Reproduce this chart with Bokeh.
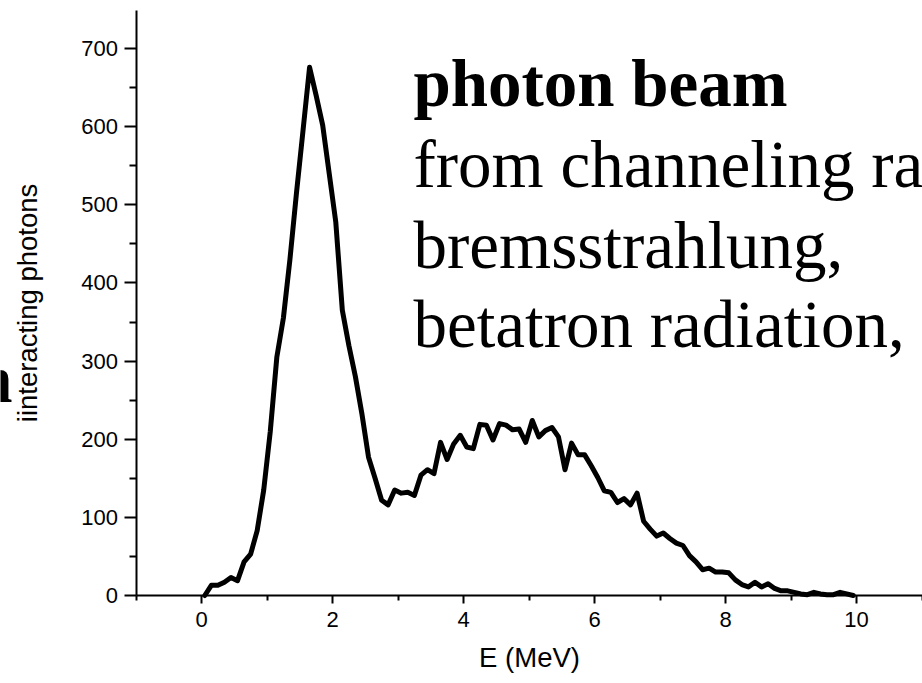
from bokeh.plotting import figure
from bokeh.models import ColumnDataSource, Range1d, FixedTicker, Label
from bokeh.embed import file_html
from bokeh.resources import INLINE

# ---- data ----
energy_mev = [0.05, 0.15, 0.25, 0.35, 0.45, 0.55, 0.65, 0.75, 0.85, 0.95,
              1.05, 1.15, 1.25, 1.35, 1.45, 1.55, 1.65, 1.75, 1.85, 1.95,
              2.05, 2.15, 2.25, 2.35, 2.45, 2.55, 2.65, 2.75, 2.85, 2.95,
              3.05, 3.15, 3.25, 3.35, 3.45, 3.55, 3.65, 3.75, 3.85, 3.95,
              4.05, 4.15, 4.25, 4.35, 4.45, 4.55, 4.65, 4.75, 4.85, 4.95,
              5.05, 5.15, 5.25, 5.35, 5.45, 5.55, 5.65, 5.75, 5.85, 5.95,
              6.05, 6.15, 6.25, 6.35, 6.45, 6.55, 6.65, 6.75, 6.85, 6.95,
              7.05, 7.15, 7.25, 7.35, 7.45, 7.55, 7.65, 7.75, 7.85, 7.95,
              8.05, 8.15, 8.25, 8.35, 8.45, 8.55, 8.65, 8.75, 8.85, 8.95,
              9.05, 9.15, 9.25, 9.35, 9.45, 9.55, 9.65, 9.75, 9.85, 9.95]
photons = [0, 13, 13, 17, 23, 19, 43, 53, 83, 135,
           210, 305, 355, 430, 515, 595, 676, 640, 602, 540,
           478, 365, 320, 280, 232, 177, 150, 122, 116, 135,
           131, 132, 128, 154, 161, 156, 196, 174, 194, 205,
           190, 188, 219, 218, 199, 220, 218, 212, 213, 196,
           224, 203, 211, 215, 203, 161, 195, 180, 180, 166,
           151, 134, 132, 119, 124, 116, 131, 95, 85, 76,
           80, 73, 67, 64, 51, 43, 33, 35, 30, 30,
           29, 20, 14, 11, 17, 11, 15, 9, 6, 6,
           4, 2, 1, 4, 2, 1, 1, 4, 2, 0]

x_major = [0, 2, 4, 6, 8, 10]
x_minor = [-1, 1, 3, 5, 7, 9, 11]
y_major = [0, 100, 200, 300, 400, 500, 600, 700]
y_minor = [50, 150, 250, 350, 450, 550, 650]
x_axis_span = (-1.0, 11.0)
y_axis_span = (0, 748.6)

overlay_bold = "photon beam"
overlay_lines = ["from channeling ra", "bremsstrahlung,", "betatron radiation,"]
cut_letter = "n"

SANS = "Liberation Sans"
SERIF = "Liberation Serif"

W, H = 922, 683
X0_PX, Y0_PX = 201, 595          # pixel of data origin
PX_PER_X, PX_PER_Y = 65.5, 0.7814

p = figure(width=W, height=H, output_backend="svg", toolbar_location=None,
           x_range=Range1d(-X0_PX / PX_PER_X, (W - X0_PX) / PX_PER_X),
           y_range=Range1d(-(H - Y0_PX) / PX_PER_Y, Y0_PX / PX_PER_Y),
           min_border_left=0, min_border_right=0, min_border_top=0,
           min_border_bottom=0)
p.title.visible = False
p.outline_line_color = None
p.grid.visible = False
p.background_fill_color = "white"
p.border_fill_color = "white"

src = ColumnDataSource(dict(x=energy_mev, y=photons))
p.line("x", "y", source=src, line_color="black", line_width=5,
       line_join="round", line_cap="round")

xa = p.xaxis[0]
ya = p.yaxis[0]
xa.fixed_location = 0
ya.fixed_location = x_axis_span[0]
xa.bounds = x_axis_span
ya.bounds = y_axis_span

for ax in (xa, ya):
    ax.axis_line_color = "black"
    ax.axis_line_width = 2
    ax.major_tick_line_color = "black"
    ax.minor_tick_line_color = "black"
    ax.major_tick_line_width = 2
    ax.minor_tick_line_width = 2
    ax.major_tick_in = 0
    ax.minor_tick_in = 0
    ax.major_label_text_font = SANS
    ax.major_label_text_font_size = "22px"
    ax.major_label_text_color = "black"
    ax.axis_label_text_font = SANS
    ax.axis_label_text_font_size = "27.5px"
    ax.axis_label_text_font_style = "normal"
    ax.axis_label_text_color = "black"

xa.ticker = FixedTicker(ticks=x_major, minor_ticks=x_minor)
ya.ticker = FixedTicker(ticks=y_major, minor_ticks=y_minor)
xa.major_tick_out = 8
xa.minor_tick_out = 5
ya.major_tick_out = 12
ya.minor_tick_out = 7
xa.major_label_standoff = 8
ya.major_label_standoff = 6
xa.axis_label = "E (MeV)"
ya.axis_label = "iinteracting photons"
xa.axis_label_standoff = 12
ya.axis_label_standoff = 36

# ---- overlaid slide text ----
def add_text(txt, px, py, bold=False, align="left"):
    xd = (px - X0_PX) / PX_PER_X
    yd = (Y0_PX - py) / PX_PER_Y
    p.add_layout(Label(x=xd, y=yd, text=txt, text_font=SERIF,
                       text_font_size="67px",
                       text_font_style="bold" if bold else "normal",
                       text_color="black", text_align=align,
                       text_baseline="alphabetic"))

add_text(overlay_bold, 413, 82, bold=True)
add_text(overlay_lines[0], 413, 163)
add_text(overlay_lines[1], 413, 244)
add_text(overlay_lines[2], 413, 323)
add_text(cut_letter, 12, 378, bold=True, align="right")

open("out.html", "w").write(file_html(p, INLINE))
